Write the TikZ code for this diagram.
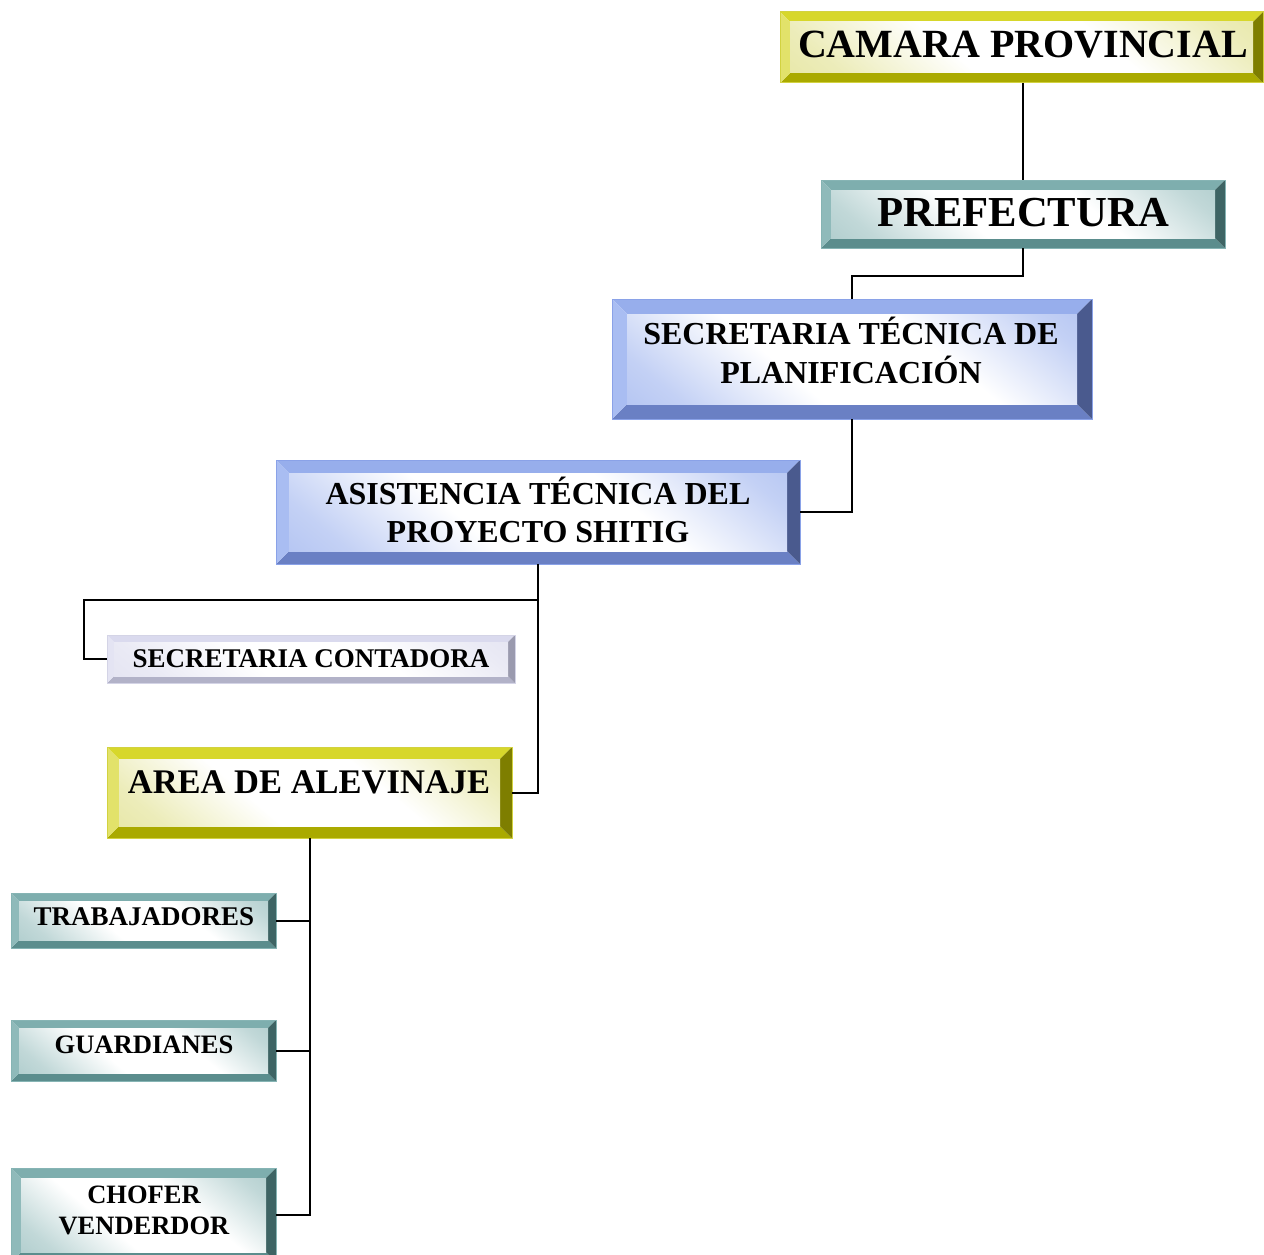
\documentclass[tikz,border=0pt]{standalone}
\usepackage{fontspec}
\setmainfont{Liberation Serif}
\usetikzlibrary{calc}

% bevel palettes: top / left / bottom / right faces, inner tint, outline
\definecolor{Y-top}{HTML}{D7D72B}\definecolor{Y-left}{HTML}{E2E26A}
\definecolor{Y-bot}{HTML}{AAAA00}\definecolor{Y-right}{HTML}{7E7E00}
\definecolor{Y-tint}{HTML}{E0E08C}\definecolor{Y-edge}{HTML}{D2D240}
\definecolor{T-top}{HTML}{7EAEAE}\definecolor{T-left}{HTML}{8FBABA}
\definecolor{T-bot}{HTML}{5B8D8D}\definecolor{T-right}{HTML}{3E6464}
\definecolor{T-tint}{HTML}{98BEBE}\definecolor{T-edge}{HTML}{86B4B4}
\definecolor{B-top}{HTML}{97AEEC}\definecolor{B-left}{HTML}{A9BDF2}
\definecolor{B-bot}{HTML}{6A80C4}\definecolor{B-right}{HTML}{4A5A8E}
\definecolor{B-tint}{HTML}{9CB2EE}\definecolor{B-edge}{HTML}{8AA2E8}
\definecolor{L-top}{HTML}{DADAEE}\definecolor{L-left}{HTML}{E4E4F3}
\definecolor{L-bot}{HTML}{B2B2C8}\definecolor{L-right}{HTML}{9A9AAE}
\definecolor{L-tint}{HTML}{DCDCEE}\definecolor{L-edge}{HTML}{D4D4E6}

% soft face shading: tinted corners, broad white middle band
\newcommand\declareglow[1]{%
  \pgfdeclareverticalshading{glow-#1}{100bp}{%
    color(0bp)=(#1-tint); color(22bp)=(#1-tint!60!white);
    color(40bp)=(white); color(62bp)=(white);
    color(80bp)=(#1-tint!60!white); color(100bp)=(#1-tint)}}
\declareglow{Y}\declareglow{T}\declareglow{B}\declareglow{L}

% #1 name, #2 x1, #3 y1, #4 x2, #5 y2, #6 bevel width, #7 palette
\newcommand\bevelbox[7]{%
  \fill[#7-top]   (#2,#3) -- (#4,#3) -- ({#4-#6},{#3+#6}) -- ({#2+#6},{#3+#6}) -- cycle;
  \fill[#7-bot]   (#2,#5) -- (#4,#5) -- ({#4-#6},{#5-#6}) -- ({#2+#6},{#5-#6}) -- cycle;
  \fill[#7-left]  (#2,#3) -- ({#2+#6},{#3+#6}) -- ({#2+#6},{#5-#6}) -- (#2,#5) -- cycle;
  \fill[#7-right] (#4,#3) -- ({#4-#6},{#3+#6}) -- ({#4-#6},{#5-#6}) -- (#4,#5) -- cycle;
  \shade[shading=glow-#7, shading angle=-40]
    ({#2+#6},{#3+#6}) rectangle ({#4-#6},{#5-#6});
  \node[draw=#7-edge, line width=1pt, inner sep=0pt, outer sep=0pt,
        minimum width={(#4-#2)*1pt}, minimum height={(#5-#3)*1pt}]
    (#1) at ({(#2+#4)/2},{(#3+#5)/2}) {};
}

\begin{document}
\begin{tikzpicture}[x=1pt, y=-1pt,
  lbl/.style={inner sep=0pt, outer sep=0pt, align=center},
  link/.style={draw=black, line width=2pt}]
\useasboundingbox (0,0) rectangle (1264,1255);

% boxes
\bevelbox{camara}{780}{12}{1263}{83}{10}{Y}
\bevelbox{pref}{821}{180}{1225}{248}{10}{T}
\bevelbox{sectec}{612}{299}{1092}{419}{15}{B}
\bevelbox{asist}{276}{460}{800}{564}{13}{B}
\bevelbox{conta}{107}{635}{515}{683}{7}{L}
\bevelbox{area}{107}{747}{512}{838}{12}{Y}
\bevelbox{trab}{11}{893}{276}{948}{8}{T}
\bevelbox{guard}{11}{1020}{276}{1081}{8}{T}
\bevelbox{chofer}{11}{1168}{276}{1262}{10}{T}

% labels
\node[lbl, font={\bfseries\fontsize{40}{48}\selectfont}] (camara-t) at (1023,44.5) {CAMARA PROVINCIAL};
\node[lbl, font={\bfseries\fontsize{42.7}{50}\selectfont}] (pref-t) at (1023,213) {PREFECTURA};
\node[lbl, font={\bfseries\fontsize{32}{39}\selectfont}] (sectec-t) at (851,350) {SECRETARIA TÉCNICA DE\\PLANIFICACIÓN};
\node[lbl, font={\bfseries\fontsize{32}{38}\selectfont}] (asist-t) at (538,509.5) {ASISTENCIA TÉCNICA DEL\\PROYECTO SHITIG};
\node[lbl, font={\bfseries\fontsize{27}{32}\selectfont}] (conta-t) at (311,659) {SECRETARIA CONTADORA};
\node[lbl, font={\bfseries\fontsize{34.5}{41}\selectfont}] (area-t) at (309,782) {AREA DE ALEVINAJE};
\node[lbl, font={\bfseries\fontsize{27}{32}\selectfont}] (trab-t) at (144,917) {TRABAJADORES};
\node[lbl, font={\bfseries\fontsize{26.6}{31}\selectfont}] (guard-t) at (144,1045) {GUARDIANES};
\node[lbl, font={\bfseries\fontsize{26.5}{31}\selectfont}] (chofer-t) at (144,1210.5) {CHOFER\\VENDERDOR};

% connectors
\coordinate (prefdrop) at (1023,276);
\coordinate (contabend) at (84,600);
\draw[link] (pref.north |- camara.south) -- (pref.north);
\draw[link] (pref.south) -- (prefdrop) -| (sectec.north);
\draw[link] (sectec.south) |- (asist.east);
\draw[link] (asist.south) |- (area.east);
\draw[link] (asist.south |- contabend) -- (contabend) |- (conta.west);
\draw[link] (area.south) |- (chofer.east);
\draw[link] (area.south |- trab.east) -- (trab.east);
\draw[link] (area.south |- guard.east) -- (guard.east);
\end{tikzpicture}
\end{document}
